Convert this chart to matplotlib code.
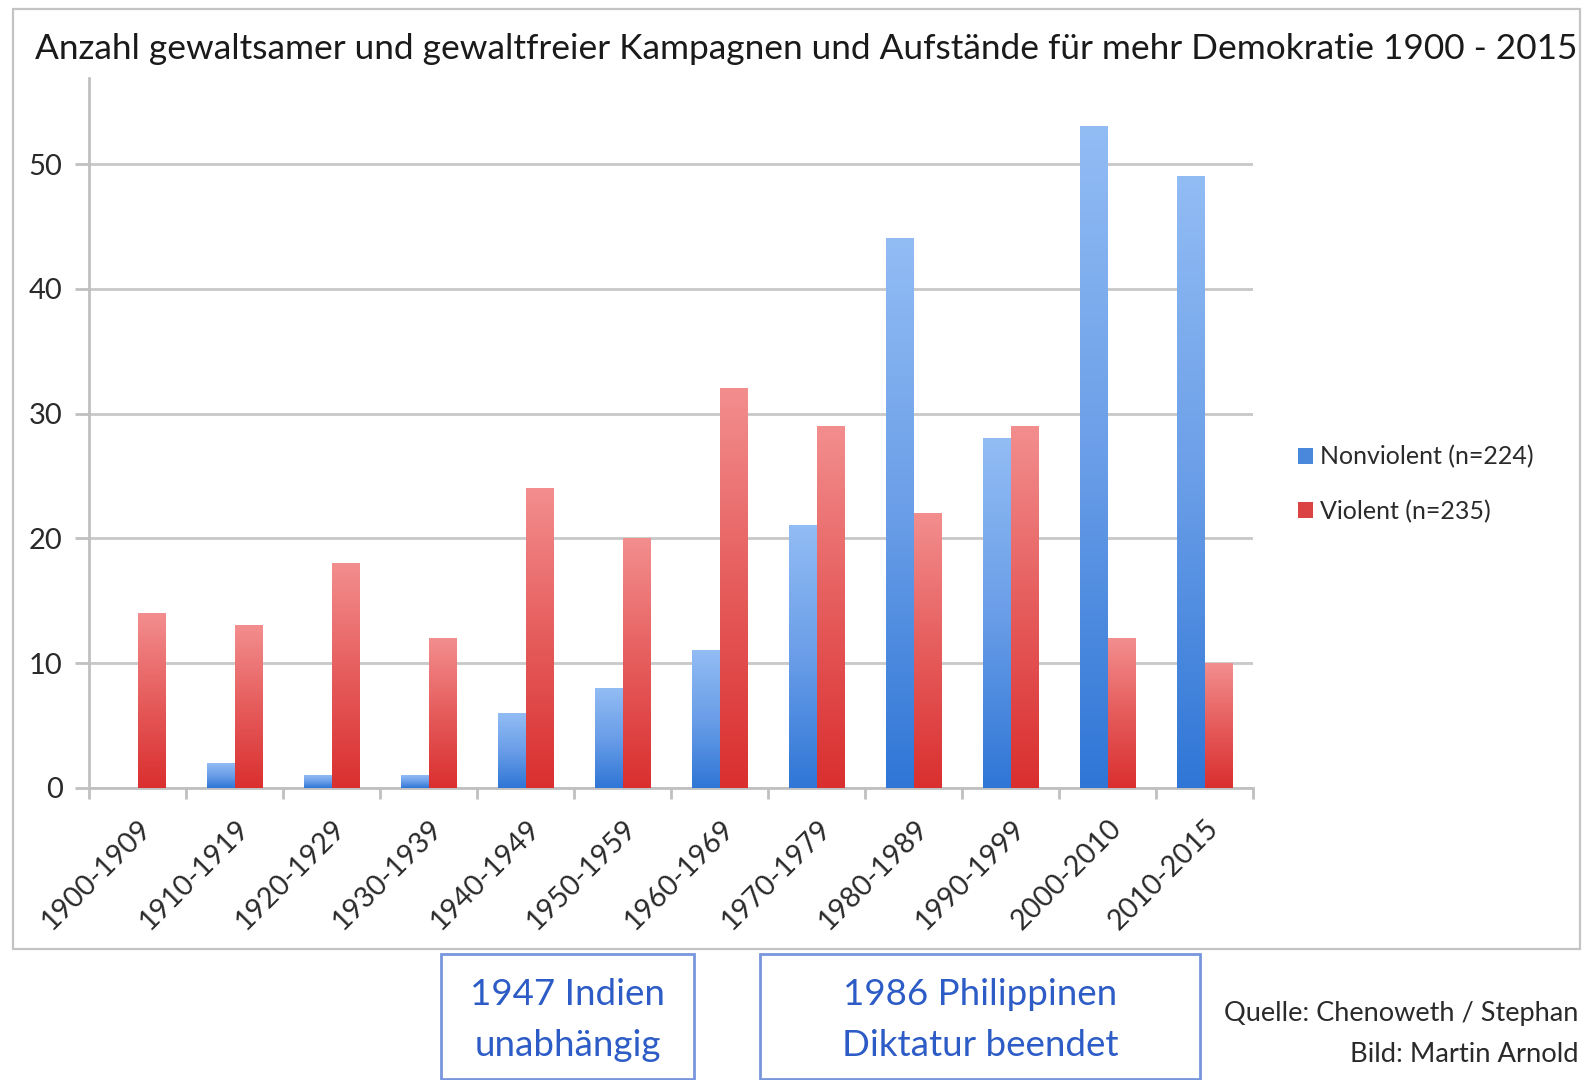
import numpy as np
import matplotlib
matplotlib.use('Agg')
import matplotlib.pyplot as plt
from matplotlib.colors import LinearSegmentedColormap
from matplotlib.patches import Rectangle, Patch
import matplotlib.transforms as mtransforms

categories = ['1900-1909', '1910-1919', '1920-1929', '1930-1939', '1940-1949', '1950-1959',
              '1960-1969', '1970-1979', '1980-1989', '1990-1999', '2000-2010', '2010-2015']
nonviolent = [0, 2, 1, 1, 6, 8, 11, 21, 44, 28, 53, 49]
violent = [14, 13, 18, 12, 24, 20, 32, 29, 22, 29, 12, 10]
yticks = [0, 10, 20, 30, 40, 50]
title = 'Anzahl gewaltsamer und gewaltfreier Kampagnen und Aufstände für mehr Demokratie 1900 - 2015'
legend_labels = ['Nonviolent (n=224)', 'Violent (n=235)']
notes = ['1947 Indien\nunabhängig', '1986 Philippinen\nDiktatur beendet']
source_lines = ['Quelle: Chenoweth / Stephan', 'Bild: Martin Arnold']

plt.rcParams['font.family'] = ['Lato', 'DejaVu Sans']

W, H = 1585, 1080
fig = plt.figure(figsize=(W / 100, H / 100), dpi=100)
fig.patch.set_facecolor('white')


def fx(px):
    return px / W


def fy(py):
    return 1 - py / H


# chart frame
fig.add_artist(Rectangle((fx(13), fy(949)), fx(1580) - fx(13), fy(9) - fy(949),
                         transform=fig.transFigure, fill=False, edgecolor='#c4c4c4', lw=1.6))

ax = fig.add_axes([fx(89), fy(788), fx(1253) - fx(89), fy(78) - fy(788)])
x = np.arange(len(categories))
w = 0.285
b1 = ax.bar(x - w / 2, nonviolent, w, color='none', zorder=3)
b2 = ax.bar(x + w / 2, violent, w, color='none', zorder=3)

cmap_blue = LinearSegmentedColormap.from_list('b', ['#2f76d6', '#6a9ee8', '#92bcf4'])
cmap_red = LinearSegmentedColormap.from_list('r', ['#da2f2f', '#e65c5c', '#f38e8e'])
grad = np.linspace(0, 1, 256).reshape(-1, 1)
for bars, cmap in ((b1, cmap_blue), (b2, cmap_red)):
    for r in bars:
        h = r.get_height()
        if h <= 0:
            continue
        ax.imshow(grad, extent=[r.get_x(), r.get_x() + r.get_width(), r.get_y(), r.get_y() + h],
                  origin='lower', cmap=cmap, aspect='auto', zorder=3, interpolation='bilinear')

ax.set_xlim(-0.5, len(categories) - 0.5)
ax.set_ylim(0, 56.9)
ax.set_axisbelow(True)
ax.yaxis.grid(True, color='#c8c8c8', lw=2, zorder=0)
for s in ('top', 'right'):
    ax.spines[s].set_visible(False)
for s in ('left', 'bottom'):
    ax.spines[s].set_color('#c0c0c0')
    ax.spines[s].set_linewidth(2)

ax.set_yticks(yticks)
ax.tick_params(axis='y', length=10, width=2, color='#c0c0c0', labelsize=21,
               labelcolor='#2a2a2a', pad=9)
ax.set_xticks(x)
ax.set_xticks(np.arange(-0.5, len(categories), 1.0), minor=True)
ax.tick_params(axis='x', which='major', length=0, pad=26)
ax.tick_params(axis='x', which='minor', length=8, width=2, color='#c0c0c0')
ax.set_xticklabels(categories, rotation=45, ha='right', va='center',
                   rotation_mode='anchor', fontsize=20.5, color='#2a2a2a')
offset = mtransforms.ScaledTranslation(10 / 100, 0, fig.dpi_scale_trans)
for lab in ax.get_xticklabels():
    lab.set_transform(lab.get_transform() + offset)

# title fitted to width
t = fig.text(fx(35), fy(59), title, ha='left', va='baseline', fontsize=26, color='#1a1a1a')
renderer = fig.canvas.get_renderer()
bb = t.get_window_extent(renderer)
t.set_fontsize(26 * 1542 / bb.width)

# legend
fig.legend(handles=[Patch(facecolor='#4a88dc'), Patch(facecolor='#dc4444')], labels=legend_labels,
           loc='center left', bbox_to_anchor=(fx(1275), fy(484)), frameon=False, fontsize=18,
           handlelength=0.6, handleheight=0.6, handletextpad=0.3, labelspacing=1.25,
           labelcolor='#2a2a2a')

# annotation boxes
boxes = [(441, 694), (760, 1200)]
for (x0, x1), txt in zip(boxes, notes):
    fig.add_artist(Rectangle((fx(x0), fy(1079)), fx(x1) - fx(x0), fy(954) - fy(1079),
                             transform=fig.transFigure, fill=False, edgecolor='#7896dc', lw=2))
    fig.text(fx((x0 + x1) / 2), fy(1020), txt, ha='center', va='center', fontsize=26.5,
             color='#2d5cc6', linespacing=1.65)

# source (kept inside the figure)
s1 = fig.text(fx(1224), fy(1014), source_lines[0], ha='left', va='center', fontsize=20, color='#2a2a2a')
s2 = fig.text(fx(1350), fy(1055), source_lines[1], ha='left', va='center', fontsize=20, color='#2a2a2a')
for s in (s1, s2):
    bb = s.get_window_extent(renderer)
    if bb.x1 > W - 6:
        s.set_fontsize(20 * (W - 6 - bb.x0) / bb.width)

fig.savefig('out.png', dpi=100)
